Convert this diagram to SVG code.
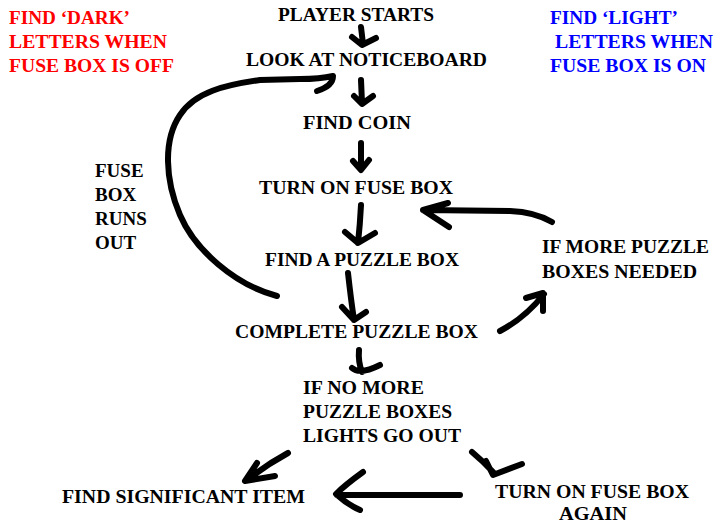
<svg xmlns="http://www.w3.org/2000/svg" width="720" height="523" viewBox="0 0 720 523">
<style>
text{font-family:"Liberation Serif","Times New Roman",serif;font-weight:bold;font-size:19px;fill:#000}
.red text{fill:#ff0000}
.blue text{fill:#0000ff}
#connectors path{fill:none;stroke:#000;stroke-width:6;stroke-linecap:round;stroke-linejoin:round}
</style>
<rect width="720" height="523" fill="#fff"/>
<g id="legend-dark" class="red">
<text x="9" y="24" textLength="121" lengthAdjust="spacingAndGlyphs">FIND ‘DARK’</text>
<text x="9" y="48" textLength="158" lengthAdjust="spacingAndGlyphs">LETTERS WHEN</text>
<text x="9" y="72" textLength="165" lengthAdjust="spacingAndGlyphs">FUSE BOX IS OFF</text>
</g>
<g id="legend-light" class="blue">
<text x="550" y="24" textLength="128" lengthAdjust="spacingAndGlyphs">FIND ‘LIGHT’</text>
<text x="555" y="48" textLength="158" lengthAdjust="spacingAndGlyphs">LETTERS WHEN</text>
<text x="550" y="72" textLength="156" lengthAdjust="spacingAndGlyphs">FUSE BOX IS ON</text>
</g>
<g id="player-starts"><text x="278" y="21" textLength="156" lengthAdjust="spacingAndGlyphs">PLAYER STARTS</text></g>
<g id="noticeboard"><text x="246" y="66" textLength="241" lengthAdjust="spacingAndGlyphs">LOOK AT NOTICEBOARD</text></g>
<g id="find-coin"><text x="303" y="129" textLength="108" lengthAdjust="spacingAndGlyphs">FIND COIN</text></g>
<g id="turn-on"><text x="259" y="194" textLength="194" lengthAdjust="spacingAndGlyphs">TURN ON FUSE BOX</text></g>
<g id="find-puzzle"><text x="265" y="266" textLength="194" lengthAdjust="spacingAndGlyphs">FIND A PUZZLE BOX</text></g>
<g id="complete-puzzle"><text x="235" y="338" textLength="243" lengthAdjust="spacingAndGlyphs">COMPLETE PUZZLE BOX</text></g>
<g id="more-needed">
<text x="542" y="253" textLength="167" lengthAdjust="spacingAndGlyphs">IF MORE PUZZLE</text>
<text x="542" y="278" textLength="155" lengthAdjust="spacingAndGlyphs">BOXES NEEDED</text>
</g>
<g id="no-more">
<text x="303" y="394" textLength="121" lengthAdjust="spacingAndGlyphs">IF NO MORE</text>
<text x="303" y="418" textLength="149" lengthAdjust="spacingAndGlyphs">PUZZLE BOXES</text>
<text x="303" y="442" textLength="158" lengthAdjust="spacingAndGlyphs">LIGHTS GO OUT</text>
</g>
<g id="find-item"><text x="62" y="503" textLength="243" lengthAdjust="spacingAndGlyphs">FIND SIGNIFICANT ITEM</text></g>
<g id="turn-on-again">
<text x="495" y="498" textLength="194" lengthAdjust="spacingAndGlyphs">TURN ON FUSE BOX</text>
<text x="559" y="520" textLength="68" lengthAdjust="spacingAndGlyphs">AGAIN</text>
</g>
<g id="fuse-runs-out">
<text x="95" y="177">FUSE</text>
<text x="95" y="201">BOX</text>
<text x="95" y="225">RUNS</text>
<text x="95" y="249">OUT</text>
</g>
<g id="connectors">
<path d="M361,27 L363,44 M352,37 L362,45 L376,38"/>
<path d="M361,80 L362,103 M354,96 L362,104 L373,96"/>
<path d="M361,143 L361,169 M353,161 L361,170 L369,160"/>
<path d="M361,205 Q360,225 358,243 M345,232 L358,243 L375,233"/>
<path d="M348,273 Q351,300 354,320 M342,307 L354,320 L366,312"/>
<path d="M359,350 Q358,362 362,372 M352,368 Q360,375 380,365"/>
<path d="M288,453 Q266,465 247,480 M257,463 L245,481 L275,476"/>
<path d="M472,452 Q484,462 494,473 M486,461 L493,475 L522,464"/>
<path d="M460,495 L337,495 M363,472 Q345,485 336,494 Q348,505 360,510"/>
<path d="M277,296 C235,285 195,250 180,215 C165,180 163,140 180,115 C195,92 225,85 260,80 L300,79 Q320,79 333,76 Q333,86 317,91"/>
<path d="M500,331 Q525,318 544,294 M526,298 L543,293 L543,311"/>
<path d="M552,222 Q535,212 510,211 L423,210 M448,203 L423,210 L449,227"/>
</g>
</svg>
